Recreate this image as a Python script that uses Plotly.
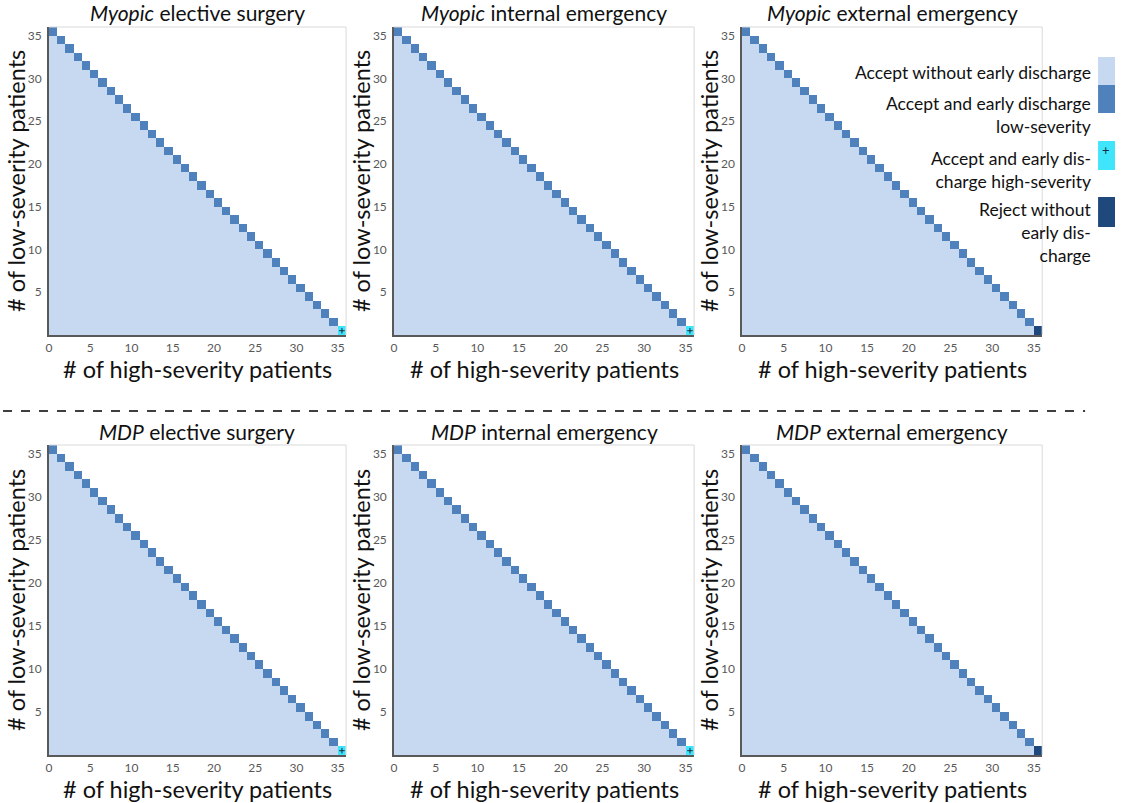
import plotly.graph_objects as go

# Figure size in pixels
W, H = 1121, 803

# State space: number of high- and low-severity patients in the ward
high_severity = list(range(36))
low_severity = list(range(36))
capacity = 35  # states with high + low == capacity lie on the boundary

panel_titles = [
    "<i>Myopic</i> elective surgery",
    "<i>Myopic</i> internal emergency",
    "<i>Myopic</i> external emergency",
    "<i>MDP</i> elective surgery",
    "<i>MDP</i> internal emergency",
    "<i>MDP</i> external emergency",
]
# Action in the corner state (high = 35, low = 0) for each policy
corner_action = [2, 2, 3, 2, 2, 3]

action_labels = [
    "Accept without early discharge",
    "Accept and early discharge<br>low-severity",
    "Accept and early dis-<br>charge high-severity",
    "Reject without<br>early dis-<br>charge",
]
action_colors = ["#c6d9f0", "#4f81bd", "#3fe6fb", "#1f497d"]

x_ticks = [0, 5, 10, 15, 20, 25, 30, 35]
y_ticks = [5, 10, 15, 20, 25, 30, 35]

# Panel placement in pixels (left, right, top, bottom)
col_px = [(46, 344), (392, 693), (741, 1042)]
row_px = [(27, 335), (445, 755)]

FONT = "Lato"


def px(x):
    return x / W


def py(y):
    return 1 - y / H


colorscale = []
for i, c in enumerate(action_colors):
    colorscale.append([i / 4, c])
    colorscale.append([(i + 1) / 4, c])

fig = go.Figure()
shapes = []
annotations = []

for p in range(6):
    r, c = divmod(p, 3)
    left, right = col_px[c]
    top, bottom = row_px[r]
    n = p + 1
    xa = "x" if n == 1 else f"x{n}"
    ya = "y" if n == 1 else f"y{n}"

    z = []
    for lo in low_severity:
        row = []
        for hi in high_severity:
            if hi + lo < capacity:
                row.append(0)
            elif hi + lo == capacity:
                row.append(1)
            else:
                row.append(None)
        z.append(row)
    z[low_severity.index(0)][high_severity.index(capacity)] = corner_action[p]

    fig.add_trace(go.Heatmap(
        x=[h + 0.5 for h in high_severity],
        y=[l + 0.5 for l in low_severity],
        z=z, zmin=-0.5, zmax=3.5, colorscale=colorscale,
        showscale=False, hoverinfo="skip", xaxis=xa, yaxis=ya,
    ))
    if corner_action[p] == 2:
        fig.add_trace(go.Scatter(
            x=[capacity + 0.5], y=[0.5], mode="markers",
            marker=dict(symbol="cross-thin", size=4,
                        line=dict(color="#1b2a40", width=1)),
            hoverinfo="skip", showlegend=False, xaxis=xa, yaxis=ya,
        ))

    axis_common = dict(
        range=[0, 36], showgrid=False, zeroline=False, showline=True,
        linecolor="#595959", linewidth=1.5, ticks="",
        tickfont=dict(family=FONT, size=12, color="#595959"),
        fixedrange=True,
    )
    fig.layout[f"xaxis{n if n > 1 else ''}"] = dict(
        axis_common, domain=[px(left), px(right)], anchor=ya,
        tickvals=x_ticks, ticklabelstandoff=1,
    )
    fig.layout[f"yaxis{n if n > 1 else ''}"] = dict(
        axis_common, domain=[py(bottom), py(top)], anchor=xa,
        tickvals=y_ticks, ticklabelstandoff=3,
    )

    # light frame on the top and right sides
    shapes.append(dict(type="line", xref="paper", yref="paper",
                       x0=px(left), x1=px(right), y0=py(top), y1=py(top),
                       line=dict(color="#d9d9d9", width=1)))
    shapes.append(dict(type="line", xref="paper", yref="paper",
                       x0=px(right), x1=px(right), y0=py(top), y1=py(bottom),
                       line=dict(color="#d9d9d9", width=1)))

    cx = (left + right) / 2
    annotations.append(dict(
        text=panel_titles[p], x=px(cx), y=py(top - 14), xref="paper",
        yref="paper", showarrow=False, xanchor="center", yanchor="middle",
        font=dict(family=FONT, size=21, color="#111111"),
    ))
    annotations.append(dict(
        text="# of high-severity patients", x=px(cx), y=py(bottom + 34),
        xref="paper", yref="paper", showarrow=False, xanchor="center",
        yanchor="middle", font=dict(family=FONT, size=23.5, color="#111111"),
    ))
    annotations.append(dict(
        text="# of low-severity patients", x=px(left - 33),
        y=py((top + bottom) / 2), xref="paper", yref="paper",
        showarrow=False, textangle=-90, xanchor="center", yanchor="middle",
        font=dict(family=FONT, size=23.5, color="#111111"),
    ))

# Dashed separator between the myopic and MDP policies
shapes.append(dict(type="line", xref="paper", yref="paper",
                   x0=0, x1=px(1085), y0=py(411), y1=py(411),
                   line=dict(color="#000000", width=1.5, dash="dash")))

# Legend: swatches and right-aligned labels
swatch_px = [(57, 85), (85, 113), (141, 170), (197, 227)]
label_y = [72, 114.5, 170, 232.5]
for i in range(4):
    t, b = swatch_px[i]
    shapes.append(dict(type="rect", xref="paper", yref="paper",
                       x0=px(1098), x1=px(1115), y0=py(b), y1=py(t),
                       fillcolor=action_colors[i], line=dict(width=0)))
    annotations.append(dict(
        text=action_labels[i], x=px(1093), y=py(label_y[i]), xref="paper",
        yref="paper", showarrow=False, xanchor="right", yanchor="middle",
        align="right", font=dict(family=FONT, size=17.5, color="#111111"),
    ))
annotations.append(dict(
    text="+", x=px(1106), y=py(150), xref="paper", yref="paper",
    showarrow=False, xanchor="center", yanchor="middle",
    font=dict(family=FONT, size=13, color="#1b2a40"),
))

fig.update_layout(
    width=W, height=H, margin=dict(l=0, r=0, t=0, b=0),
    paper_bgcolor="white", plot_bgcolor="white",
    shapes=shapes, annotations=annotations, showlegend=False,
)

fig.write_html("out.html")
